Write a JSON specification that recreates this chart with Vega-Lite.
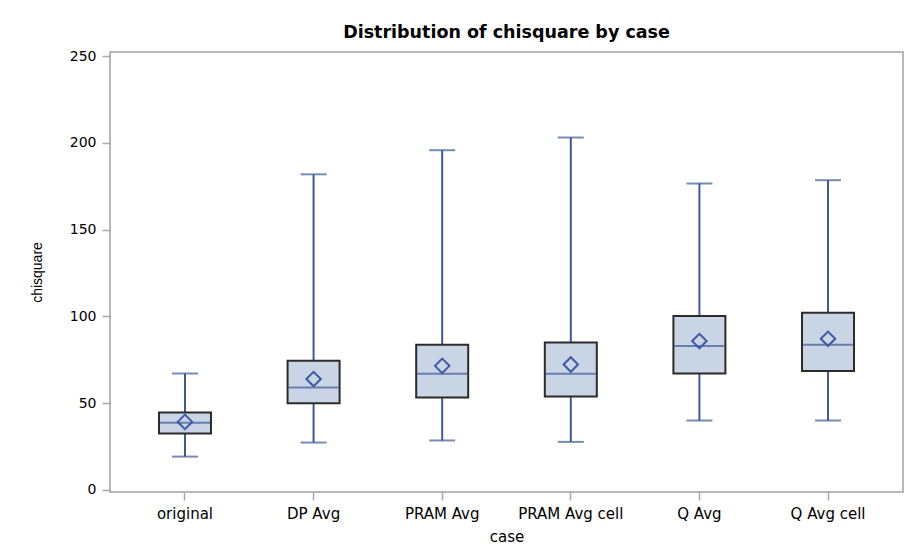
{
  "$schema": "https://vega.github.io/schema/vega-lite/v6.json",
  "autosize": {"type": "none"},
  "width": 793,
  "height": 440,
  "padding": {"left": 110, "top": 52, "right": 4, "bottom": 62},
  "background": "white",
  "title": {
    "text": "Distribution of chisquare by case",
    "font": "DejaVu Sans",
    "fontSize": 17.5,
    "fontWeight": "bold",
    "color": "#000000",
    "anchor": "middle",
    "offset": 8
  },
  "config": {
    "view": {"stroke": "#a0a0a0", "strokeWidth": 1.5},
    "axis": {"grid": false, "domain": false}
  },
  "data": {
    "values": [
      {"case": "original", "min": 19.2, "q1": 32.5, "median": 38.7, "q3": 44.6, "max": 67.1, "mean": 39.2},
      {"case": "DP Avg", "min": 27.3, "q1": 50.0, "median": 59.0, "q3": 74.4, "max": 181.9, "mean": 63.9},
      {"case": "PRAM Avg", "min": 28.5, "q1": 53.3, "median": 66.9, "q3": 83.7, "max": 195.8, "mean": 71.5},
      {"case": "PRAM Avg cell", "min": 27.7, "q1": 53.8, "median": 66.9, "q3": 85.0, "max": 203.1, "mean": 72.3},
      {"case": "Q Avg", "min": 40.0, "q1": 67.1, "median": 82.9, "q3": 100.2, "max": 176.6, "mean": 85.8},
      {"case": "Q Avg cell", "min": 40.0, "q1": 68.5, "median": 83.7, "q3": 102.1, "max": 178.5, "mean": 87.1}
    ]
  },
  "encoding": {
    "x": {
      "field": "case",
      "type": "nominal",
      "sort": null,
      "scale": {"paddingInner": 0, "paddingOuter": 0.083},
      "axis": {
        "title": "case",
        "labelAngle": 0,
        "labelFont": "DejaVu Sans",
        "labelFontSize": 15,
        "labelColor": "#000000",
        "labelPadding": 6,
        "tickSize": 8,
        "tickColor": "#a8a8a8",
        "tickWidth": 1.5,
        "titleFont": "DejaVu Sans",
        "titleFontSize": 15,
        "titleFontWeight": "normal",
        "titleColor": "#000000",
        "titlePadding": 8
      }
    }
  },
  "layer": [
    {
      "mark": {"type": "rule", "color": "#3d5a98", "strokeWidth": 2},
      "encoding": {
        "y": {
          "field": "min",
          "type": "quantitative",
          "scale": {"domain": [-1.2, 252.4], "nice": false, "zero": false},
          "axis": {
            "title": "chisquare",
            "values": [0, 50, 100, 150, 200, 250],
            "labelFont": "DejaVu Sans",
            "labelFontSize": 14,
            "labelColor": "#000000",
            "labelPadding": 6,
            "tickSize": 8,
            "tickColor": "#a8a8a8",
            "tickWidth": 1.5,
            "titleFont": "Liberation Sans",
            "titleFontSize": 14,
            "titleFontWeight": "normal",
            "titleColor": "#000000",
            "titlePadding": 25
          }
        },
        "y2": {"field": "max"}
      }
    },
    {
      "mark": {"type": "tick", "color": "#3d5a98", "size": 26, "thickness": 2},
      "encoding": {"y": {"field": "min", "type": "quantitative"}}
    },
    {
      "mark": {"type": "tick", "color": "#3d5a98", "size": 26, "thickness": 2},
      "encoding": {"y": {"field": "max", "type": "quantitative"}}
    },
    {
      "mark": {"type": "bar", "size": 52, "fill": "#c9d4e5", "stroke": "#2b2b2b", "strokeWidth": 2},
      "encoding": {
        "y": {"field": "q1", "type": "quantitative"},
        "y2": {"field": "q3"}
      }
    },
    {
      "mark": {"type": "tick", "color": "#3d5a98", "size": 50, "thickness": 2},
      "encoding": {"y": {"field": "median", "type": "quantitative"}}
    },
    {
      "mark": {"type": "point", "shape": "diamond", "filled": false, "color": "#3d5aa8", "strokeWidth": 2, "size": 210, "opacity": 1},
      "encoding": {"y": {"field": "mean", "type": "quantitative"}}
    }
  ]
}
